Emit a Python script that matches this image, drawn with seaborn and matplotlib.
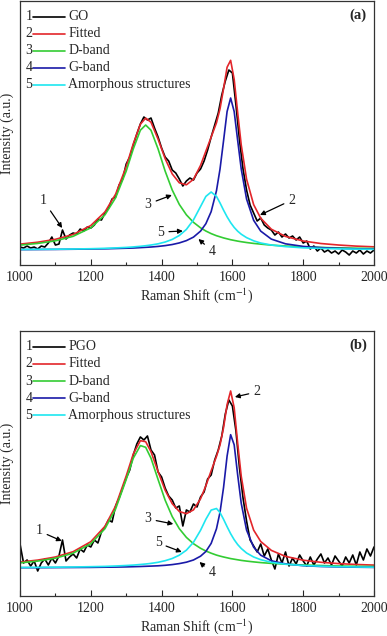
import numpy as np
import pandas as pd
import matplotlib
matplotlib.use("Agg")
import matplotlib.pyplot as plt
from matplotlib.ticker import MultipleLocator
import seaborn as sns

# Raman shift grid (cm-1) for the fitted curves
shift = [1000, 1050, 1100, 1150, 1200, 1240, 1270, 1300, 1320, 1340,
         1355, 1370, 1390, 1410, 1430, 1450, 1470, 1490, 1510, 1525,
         1540, 1555, 1565, 1575, 1585, 1595, 1605, 1615, 1625, 1640,
         1660, 1680, 1710, 1750, 1800, 1850, 1900, 1950, 2000]
# measured spectra are sampled every 10 cm-1
shift_raw = list(range(1000, 2001, 10))

# ---- (a) GO ----
go_raw = [18, 17, 19, 17, 18, 16, 19, 18, 22, 28,
          20, 21, 35, 26, 30, 32, 31, 36, 34, 38,
          37, 40, 46, 45, 52, 57, 66, 68, 80, 86,
          101, 108, 120, 131, 141, 148, 145, 147, 137, 128,
          117, 108, 104, 95, 92, 86, 79, 84, 87, 85,
          92, 96, 104, 115, 128, 140, 152, 170, 184, 195,
          192, 160, 125, 96, 75, 60, 52, 44, 47, 40,
          37, 35, 30, 33, 28, 31, 27, 29, 25, 28,
          22, 24, 16, 19, 14, 17, 13, 15, 12, 14,
          11, 15, 13, 10, 14, 12, 15, 11, 14, 12,
          15]
go_fit = [20.9, 22.8, 25.7, 30.5, 39.5, 53.1, 70.8, 98.3, 121.2, 140.8,
          146.9, 142.8, 125.9, 106.4, 91.1, 82.2, 80.2, 85.7, 99.6, 113.8,
          127.9, 142.2, 156.2, 176.3, 197.8, 204.7, 185.7, 152.0, 120.0, 85.9,
          60.4, 46.8, 35.8, 28.6, 24.0, 21.5, 20.0, 18.9, 18.2]
go_d = [19.9, 21.6, 24.2, 28.7, 37.2, 50.2, 67.2, 93.9, 116.1, 134.8,
        140.0, 134.8, 116.1, 93.9, 75.0, 60.6, 50.2, 42.7, 37.2, 34.0,
        31.4, 29.3, 28.2, 27.1, 26.2, 25.3, 24.6, 23.9, 23.3, 22.5,
        21.6, 20.9, 19.9, 19.0, 18.2, 17.6, 17.1, 16.8, 16.5]
go_g = [15.4, 15.5, 15.6, 15.8, 16.0, 16.2, 16.5, 16.8, 17.0, 17.4,
        17.7, 18.0, 18.6, 19.4, 20.5, 22.1, 24.4, 27.9, 33.9, 41.3,
        53.4, 74.3, 95.9, 124.3, 153.5, 167.0, 153.5, 124.3, 95.9, 66.0,
        44.7, 33.9, 25.9, 21.2, 18.6, 17.4, 16.7, 16.2, 15.9]
go_am = [15.5, 15.7, 15.8, 16.0, 16.3, 16.7, 17.1, 17.6, 18.1, 18.7,
         19.3, 20.0, 21.2, 23.0, 25.6, 29.5, 35.6, 45.1, 58.5, 68.6,
         73.0, 68.6, 62.1, 54.9, 48.2, 42.4, 37.6, 33.8, 30.8, 27.4,
         24.2, 22.0, 20.0, 18.4, 17.2, 16.6, 16.2, 15.9, 15.7]

# ---- (b) PGO ----
pgo_raw = [52, 33, 36, 30, 35, 25, 33, 37, 31, 38,
           33, 40, 56, 35, 39, 42, 38, 47, 44, 51,
           49, 56, 53, 64, 69, 76, 74, 90, 98, 108,
           118, 126, 141, 152, 159, 156, 160, 146, 141, 124,
           119, 108, 100, 96, 88, 90, 70, 86, 84, 92,
           89, 99, 104, 117, 121, 136, 146, 160, 182, 196,
           190, 165, 128, 98, 75, 56, 50, 44, 52, 40,
           47, 36, 27, 42, 33, 44, 30, 38, 32, 41,
           35, 30, 39, 31, 37, 42, 33, 38, 31, 40,
           35, 30, 39, 33, 41, 31, 44, 36, 47, 40,
           49]
pgo_fit = [33.9, 35.9, 39.0, 44.3, 54.3, 69.7, 89.9, 120.0, 142.0, 155.3,
           154.3, 144.3, 124.4, 105.8, 92.3, 84.5, 82.3, 86.1, 97.2, 110.2,
           125.2, 139.6, 151.0, 168.3, 191.4, 205.0, 188.3, 152.4, 119.7, 87.8,
           65.9, 54.5, 45.6, 39.6, 35.8, 33.7, 32.4, 31.5, 30.9]
pgo_d = [33.1, 34.9, 37.8, 42.8, 52.3, 67.3, 87.0, 116.5, 137.8, 150.4,
         148.7, 137.8, 116.5, 95.8, 79.4, 67.3, 58.6, 52.3, 47.7, 45.0,
         42.8, 40.9, 39.9, 39.0, 38.2, 37.4, 36.8, 36.2, 35.6, 34.9,
         34.1, 33.4, 32.6, 31.8, 31.0, 30.5, 30.0, 29.7, 29.5]
pgo_g = [28.3, 28.3, 28.4, 28.5, 28.6, 28.8, 28.9, 29.1, 29.3, 29.5,
         29.7, 29.9, 30.2, 30.7, 31.4, 32.4, 33.8, 36.0, 39.8, 44.5,
         52.6, 67.2, 83.7, 108.5, 139.9, 161.3, 151.2, 120.8, 92.6, 65.9,
         48.8, 40.8, 35.2, 32.1, 30.3, 29.5, 29.1, 28.8, 28.6]
pgo_am = [28.5, 28.6, 28.8, 29.0, 29.3, 29.6, 30.0, 30.5, 30.9, 31.5,
          32.0, 32.6, 33.7, 35.3, 37.5, 40.8, 45.8, 53.7, 65.7, 76.7,
          85.9, 87.5, 83.4, 76.7, 69.3, 62.3, 56.3, 51.4, 47.5, 43.0,
          39.0, 36.3, 33.7, 31.8, 30.5, 29.8, 29.3, 29.0, 28.8]

labels_a = ["GO", "Fitted", "D-band", "G-band", "Amorphous structures"]
labels_b = ["PGO", "Fitted", "D-band", "G-band", "Amorphous structures"]
colors = ["black", "#e3262b", "#33cc33", "#1a1aa8", "#1ee6f0"]

# curve number -> (text position, arrow tip) in data units
notes_a = {"1": ((1065, 65), (1119, 37)), "3": ((1362, 61), (1429, 70)),
           "5": ((1398, 33), (1460, 34)), "4": ((1543, 14), (1504, 26)),
           "2": ((1768, 65), (1678, 50))}
notes_b = {"2": ((1669, 204), (1607, 199)), "1": ((1054, 65), (1118, 55)),
           "3": ((1362, 77), (1433, 72)), "5": ((1390, 53), (1457, 44)),
           "4": ((1542, 23), (1507, 34))}

sns.set_style("ticks")
plt.rcParams["font.family"] = ["Liberation Serif", "DejaVu Serif"]
plt.rcParams["mathtext.fontset"] = "stix"
plt.rcParams["font.size"] = 10


def panel(ax, raw, fit, d, g, am, labels, tag, notes, top):
    sns.lineplot(x=shift_raw, y=raw, ax=ax, color=colors[0], lw=1.2,
                 estimator=None, sort=False)
    for ys, c in zip([fit, d, g, am], colors[1:]):
        sns.lineplot(x=shift, y=ys, ax=ax, color=c, lw=1.2,
                     estimator=None, sort=False)
    ax.set_xlim(1000, 2000)
    ax.set_ylim(0, top)
    ax.set_yticks([])
    ax.set_xticks(range(1000, 2001, 200))
    ax.xaxis.set_minor_locator(MultipleLocator(100))
    ax.tick_params(axis="x", which="major", direction="in", length=4,
                   width=0.8, pad=4, labelsize=10)
    ax.tick_params(axis="x", which="minor", direction="in", length=2.5,
                   width=0.8)
    for s in ax.spines.values():
        s.set_color("#333333")
        s.set_linewidth(0.9)
    ax.set_xlabel("Raman Shift (cm$^{-1}$)", fontsize=10, labelpad=2)
    ax.set_ylabel("Intensity (a.u.)", fontsize=10, labelpad=4)

    # numbered legend
    for i, (lab, c) in enumerate(zip(labels, colors)):
        y = 0.94 - i * 0.0644
        ax.plot([0.037, 0.127], [y, y], transform=ax.transAxes, color=c,
                lw=1.2)
        ax.text(0.035, y, str(i + 1), transform=ax.transAxes, ha="right",
                va="center", fontsize=10)
        ax.text(0.136, y, lab, transform=ax.transAxes, ha="left",
                va="center", fontsize=10)
    ax.text(0.98, 0.945, tag, transform=ax.transAxes, ha="right",
            va="center", fontsize=10.5, fontweight="bold")

    for num, (txt, tip) in notes.items():
        ax.annotate(num, xy=tip, xytext=txt, ha="center", va="center",
                    fontsize=10,
                    arrowprops=dict(arrowstyle="-|>", color="black", lw=0.9,
                                    mutation_scale=7, shrinkA=1, shrinkB=0))


fig = plt.figure(figsize=(3.87, 6.36), dpi=100)
ax1 = fig.add_axes([0.0517, 0.5833, 0.9147, 0.4151])
ax2 = fig.add_axes([0.0517, 0.0629, 0.9147, 0.4167])
panel(ax1, go_raw, go_fit, go_d, go_g, go_am, labels_a, "(a)", notes_a, 264)
panel(ax2, pgo_raw, pgo_fit, pgo_d, pgo_g, pgo_am, labels_b, "(b)", notes_b, 265)

fig.savefig("out.png", dpi=100)
